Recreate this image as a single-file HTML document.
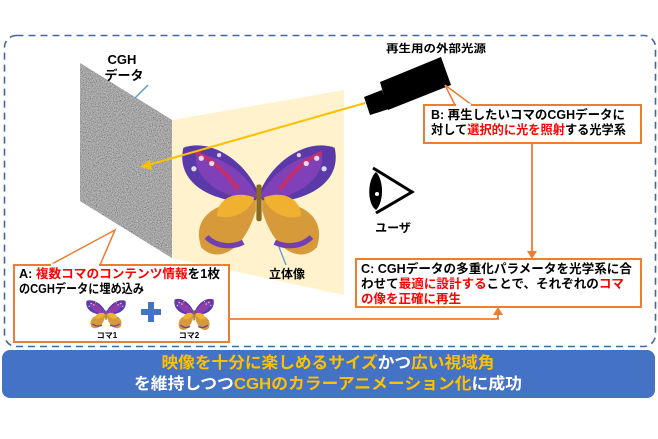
<!DOCTYPE html>
<html><head><meta charset="utf-8"><style>
html,body{margin:0;padding:0;background:#fff;}
svg{display:block;font-family:"Liberation Sans","Noto Sans CJK JP",sans-serif;font-weight:bold;}
</style></head><body>
<svg width="658" height="439" viewBox="0 0 658 439" xmlns="http://www.w3.org/2000/svg">
<defs>
<filter id="n2"><feTurbulence type="fractalNoise" baseFrequency="1.2" numOctaves="1" seed="5"/><feColorMatrix type="saturate" values="0"/><feComponentTransfer><feFuncR type="linear" slope="2.2" intercept="-0.55"/><feFuncG type="linear" slope="2.2" intercept="-0.55"/><feFuncB type="linear" slope="2.2" intercept="-0.55"/><feFuncA type="linear" slope="0" intercept="1"/></feComponentTransfer></filter>
<clipPath id="panel"><polygon points="80,63 172,120 172,258 80,201"/></clipPath>
<g id="bfly">
<path d="M0,0 C-10,-30 -45,-55 -72,-45 C-78,-20 -60,5 -5,8 Z" fill="#5a3aa8"/>
<path d="M0,0 C10,-30 45,-55 72,-45 C78,-20 60,5 5,8 Z" fill="#5a3aa8"/>
<path d="M-2,0 C-12,-22 -40,-40 -60,-38 C-62,-20 -45,0 -5,6 Z" fill="#8040b8"/>
<path d="M2,0 C12,-22 40,-40 60,-38 C62,-20 45,0 5,6 Z" fill="#8040b8"/>
<path d="M-3,5 C-40,5 -65,20 -55,50 C-40,65 -15,55 -3,15 Z" fill="#d79a3a"/>
<path d="M3,5 C40,5 65,20 55,50 C40,65 15,55 3,15 Z" fill="#d79a3a"/>
<path d="M-5,2 C-25,-5 -40,5 -40,20 C-25,25 -10,15 -5,5Z" fill="#f0b030"/>
<path d="M5,2 C25,-5 40,5 40,20 C25,25 10,15 5,5Z" fill="#f0b030"/>
<path d="M-60,-40 C-45,-35 -30,-20 -20,-5" stroke="#c03070" stroke-width="4" fill="none"/>
<path d="M60,-40 C45,-35 30,-20 20,-5" stroke="#c03070" stroke-width="4" fill="none"/>
<path d="M-50,40 C-40,50 -25,50 -15,45" stroke="#7040b0" stroke-width="5" fill="none"/>
<path d="M50,40 C40,50 25,50 15,45" stroke="#7040b0" stroke-width="5" fill="none"/>
<g fill="#fff" opacity="0.8"><circle cx="-55" cy="-35" r="2.5"/><circle cx="-45" cy="-30" r="2.5"/><circle cx="-62" cy="-25" r="2.5"/><circle cx="-38" cy="-38" r="2"/><circle cx="55" cy="-35" r="2.5"/><circle cx="45" cy="-30" r="2.5"/><circle cx="62" cy="-25" r="2.5"/><circle cx="38" cy="-38" r="2"/></g>
<rect x="-2.5" y="-10" width="5" height="35" rx="2" fill="#8a6a20"/>
</g>
</defs>

<rect x="4.5" y="35.5" width="651" height="311" rx="12" fill="none" stroke="#44689a" stroke-width="1.6" stroke-dasharray="7,5"/>

<polygon points="172,120 344,90 344,295 172,258" fill="#fff2cc"/>
<polygon points="80,63 172,120 172,258 80,201" fill="#7a7a7a"/>
<rect x="80" y="63" width="92" height="195" clip-path="url(#panel)" filter="url(#n2)" opacity="0.6"/>

<text x="122" y="64" font-size="13" text-anchor="middle">CGH</text>
<text x="124" y="80" font-size="13" text-anchor="middle">データ</text>
<line x1="148" y1="85" x2="135" y2="98" stroke="#5b9bd5" stroke-width="1.5"/>

<use href="#bfly" transform="translate(259,195) scale(1.05)"/>
<text x="287" y="278" font-size="12" text-anchor="middle">立体像</text>
<line x1="279" y1="247" x2="286" y2="265" stroke="#5b9bd5" stroke-width="1.3"/>

<polygon points="380,82 441,57 451,85 388,110" fill="#000"/>
<polygon points="364,97 382,90 389,109 370,115" fill="#000"/>
<text x="436" y="52" font-size="11" text-anchor="middle" textLength="100" lengthAdjust="spacingAndGlyphs">再生用の外部光源</text>

<line x1="365" y1="103" x2="148" y2="165" stroke="#ffc000" stroke-width="2"/>
<polygon points="140,167 150,160 152,170" fill="#ffc000"/>

<g transform="translate(370,168)">
<path d="M3,0 L42,24 L6,45" fill="none" stroke="#000" stroke-width="3"/>
<path d="M6,4 C-3,12 -3,36 6,42 C14,34 14,12 6,4Z" fill="#000"/>
<circle cx="7" cy="26" r="2" fill="#fff"/>
</g>
<text x="393" y="232" font-size="12" text-anchor="middle">ユーザ</text>

<polygon points="455,105 472,105 445,85" fill="#fff" stroke="#ed7d31" stroke-width="1.5"/>
<rect x="424" y="105" width="217" height="38" fill="#fff" stroke="#ed7d31" stroke-width="2"/>
<line x1="456" y1="105" x2="471" y2="105" stroke="#fff" stroke-width="3"/>
<text x="431" y="119" font-size="12.5" textLength="194" lengthAdjust="spacingAndGlyphs">B: 再生したいコマのCGHデータに</text>
<text x="431" y="134" font-size="12.5" textLength="195" lengthAdjust="spacingAndGlyphs">対して<tspan fill="#ff0000">選択的に光を照射</tspan>する光学系</text>

<line x1="532" y1="143" x2="532" y2="252" stroke="#ed7d31" stroke-width="1.8"/>
<polygon points="527,251 537,251 532,259" fill="#ed7d31"/>

<rect x="356" y="259" width="285" height="48" fill="#fff" stroke="#ed7d31" stroke-width="2"/>
<text x="361" y="273" font-size="12.5" textLength="271" lengthAdjust="spacingAndGlyphs">C: CGHデータの多重化パラメータを光学系に合</text>
<text x="361" y="288" font-size="12.5" textLength="263" lengthAdjust="spacingAndGlyphs">わせて<tspan fill="#ff0000">最適に設計する</tspan>ことで、それぞれの<tspan fill="#ff0000">コマ</tspan></text>
<text x="361" y="303" font-size="12.5" textLength="100" lengthAdjust="spacingAndGlyphs" fill="#ff0000">の像を正確に再生</text>

<polyline points="229,319 498,319 498,314" fill="none" stroke="#ed7d31" stroke-width="1.8"/>
<polygon points="493,315 503,315 498,307" fill="#ed7d31"/>

<polygon points="50,265 100,265 115,230" fill="#fff" stroke="#ed7d31" stroke-width="1.5"/>
<rect x="14" y="265" width="215" height="77" fill="#fff" stroke="#ed7d31" stroke-width="2"/>
<line x1="51" y1="265" x2="99" y2="265" stroke="#fff" stroke-width="3"/>
<text x="19" y="278" font-size="12.5" textLength="201" lengthAdjust="spacingAndGlyphs">A: <tspan fill="#ff0000">複数コマのコンテンツ情報</tspan>を1枚</text>
<text x="19" y="293" font-size="12.5" textLength="125" lengthAdjust="spacingAndGlyphs">のCGHデータに埋め込み</text>
<use href="#bfly" transform="translate(106,313) scale(0.27)"/>
<use href="#bfly" transform="translate(186,313) scale(0.27,0.3) translate(30,0)"/>
<rect x="141" y="309" width="20" height="6" fill="#4472c4"/>
<rect x="148" y="302" width="6" height="20" fill="#4472c4"/>
<text x="107" y="338" font-size="8" text-anchor="middle">コマ1</text>
<text x="189" y="338" font-size="8" text-anchor="middle">コマ2</text>

<rect x="2" y="350" width="653" height="48" rx="8" fill="#4472c4"/>
<text x="328" y="368" font-size="16" text-anchor="middle" fill="#ffc000" textLength="333" lengthAdjust="spacingAndGlyphs">映像を十分に楽しめるサイズ<tspan fill="#fff">かつ</tspan>広い視域角</text>
<text x="328" y="389" font-size="16" text-anchor="middle" fill="#fff" textLength="388" lengthAdjust="spacingAndGlyphs">を維持しつつ<tspan fill="#ffc000">CGHのカラーアニメーション化</tspan>に成功</text>
</svg>
</body></html>
